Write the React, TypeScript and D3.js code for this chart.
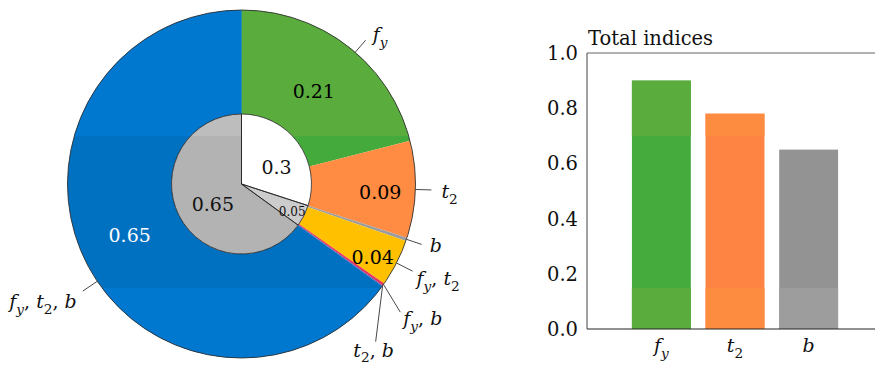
import React from "react";
import * as d3 from "d3";

const W = 875;
const H = 365;

// Outer ring: share of variance per factor group
const groupNames = ["f_y", "t_2", "b", "f_y, t_2", "f_y, b", "t_2, b", "f_y, t_2, b"];
const groupShares = [0.21, 0.09, 0.003, 0.044, 0.002, 0.001, 0.65];

// Inner pie: share per interaction order
const orderNames = ["first", "second", "third"];
const orderShares = [0.3, 0.05, 0.65];

// Bar chart: total-effect indices
const barFactors = ["f_y", "t_2", "b"];
const totalIndices = [0.9, 0.78, 0.65];
const yTicks = [0, 0.2, 0.4, 0.6, 0.8, 1.0];

const FONT = "'DejaVu Serif', serif";

type Palette = { groups: string[]; orders: string[]; bars: string[] };

const basePal: Palette = {
  groups: ["#43aa3b", "url(#orangeGrad)", "#9d9d9d", "#ffc000", "#e8325a", "#7a3fa0", "#0070c0"],
  orders: ["#ffffff", "#cccccc", "#b3b3b3"],
  bars: ["#44ab3c", "#fe8444", "#939393"],
};
// slightly lighter rendering in the top and bottom horizontal strips
const stripPal: Palette = {
  groups: ["#5aac3c", "url(#orangeGrad)", "#9d9d9d", "#ffc000", "#e8325a", "#7a3fa0", "#0078d0"],
  orders: ["#ffffff", "#d2d2d2", "#bdbdbd"],
  bars: ["#5aac3c", "#fe8c40", "#9d9d9d"],
};

// donut geometry
const cx = 241.5;
const cy = 184;
const rOut = 174;
const rIn = 70;

// callout layout for the outer ring (degrees / px)
const callouts = [
  { nudge: 3, endAngle: null, endR: 190, dx: 7, dy: 1, anchor: "start" },
  { nudge: 0, endAngle: null, endR: 190, dx: 10, dy: 8, anchor: "start" },
  { nudge: 0, endAngle: null, endR: 190, dx: 8, dy: 8, anchor: "start" },
  { nudge: 0, endAngle: null, endR: 192, dx: 4, dy: 14, anchor: "start" },
  { nudge: 0, endAngle: 128.9, endR: 204, dx: 3, dy: 13, anchor: "start" },
  { nudge: 0, endAngle: 139.6, endR: 207, dx: -2, dy: 15, anchor: "middle" },
  { nudge: -7, endAngle: null, endR: 191.5, dx: -6, dy: 17, anchor: "end" },
];
// value labels inside the ring
const ringValueLayout = [
  { r: 118, nudge: 0, color: "#000" },
  { r: 139, nudge: 1.5, color: "#000" },
  null,
  { r: 150, nudge: 2, color: "#000" },
  null,
  null,
  { r: 123, nudge: 2.4, color: "#fff" },
];
const pieValueLayout = [
  { r: 39, nudge: 10, size: 19 },
  { r: 58, nudge: 2, size: 12 },
  { r: 35, nudge: -8, size: 19 },
];

const rad = (deg: number) => (deg * Math.PI) / 180;
const polar = (a: number, r: number): [number, number] => [cx + r * Math.sin(a), cy - r * Math.cos(a)];

const pieGen = d3
  .pie<number>()
  .sort(null)
  .value((d) => d)
  .startAngle(0)
  .endAngle(2 * Math.PI);
const outerArcs = pieGen(groupShares);
const innerArcs = pieGen(orderShares);
const ringArc = d3.arc<d3.PieArcDatum<number>>().innerRadius(rIn).outerRadius(rOut);
const pieArc = d3.arc<d3.PieArcDatum<number>>().innerRadius(0).outerRadius(rIn);

const x = d3.scaleBand<string>().domain(barFactors).range([587, 883]).paddingInner(0.2).paddingOuter(0.61);
const y = d3.scaleLinear().domain([0, 1]).range([329, 53]);
const fmtRing = d3.format(".2f");
const fmtPie = (v: number) => String(v);

function MathLabel(props: { text: string; x: number; y: number; anchor?: string; size?: number }) {
  const size = props.size ?? 19;
  const shift = size * 0.3;
  const spans: React.ReactNode[] = [];
  let off = 0;
  props.text.split(", ").forEach((part, i) => {
    const [base, sub] = part.split("_");
    if (i > 0) {
      spans.push(
        <tspan key={"c" + i} dy={-off} fontStyle="normal">
          {", "}
        </tspan>
      );
      off = 0;
    }
    spans.push(<tspan key={"b" + i}>{base}</tspan>);
    if (sub) {
      spans.push(
        <tspan key={"s" + i} dy={shift} fontSize={size * 0.72} fontStyle={/\d/.test(sub) ? "normal" : "italic"}>
          {sub}
        </tspan>
      );
      off = shift;
    }
  });
  return (
    <text
      x={props.x}
      y={props.y}
      textAnchor={props.anchor ?? "start"}
      fontFamily={FONT}
      fontStyle="italic"
      fontSize={size}
      fill="#111"
      style={{ whiteSpace: "pre" }}
    >
      {spans}
    </text>
  );
}

function Fills({ pal }: { pal: Palette }) {
  return (
    <g>
      {outerArcs.map((a, i) => (
        <path key={groupNames[i]} d={ringArc(a) ?? ""} transform={`translate(${cx},${cy})`} fill={pal.groups[i]} />
      ))}
      {innerArcs.map((a, i) => (
        <path key={orderNames[i]} d={pieArc(a) ?? ""} transform={`translate(${cx},${cy})`} fill={pal.orders[i]} />
      ))}
      {barFactors.map((f, i) => (
        <rect
          key={f}
          x={x(f)}
          y={y(totalIndices[i])}
          width={x.bandwidth()}
          height={y(0) - y(totalIndices[i])}
          fill={pal.bars[i]}
        />
      ))}
    </g>
  );
}

function Overlay() {
  return (
    <g>
      {/* inner pie outlines */}
      {innerArcs.map((a, i) => (
        <path
          key={orderNames[i]}
          d={pieArc(a) ?? ""}
          transform={`translate(${cx},${cy})`}
          fill="none"
          stroke="#222"
          strokeWidth={0.8}
        />
      ))}
      <circle cx={cx} cy={cy} r={rOut} fill="none" stroke="#333" strokeWidth={0.9} />

      {/* callouts */}
      {outerArcs.map((a, i) => {
        const c = callouts[i];
        const mid = (a.startAngle + a.endAngle) / 2 + rad(c.nudge);
        const [x0, y0] = polar(mid, rOut);
        const endA = c.endAngle == null ? mid : rad(c.endAngle);
        const [x1, y1] = polar(endA, c.endR);
        return (
          <g key={groupNames[i]}>
            <line x1={x0} y1={y0} x2={x1} y2={y1} stroke="#333" strokeWidth={0.9} />
            <MathLabel text={groupNames[i]} x={x1 + c.dx} y={y1 + c.dy} anchor={c.anchor} />
          </g>
        );
      })}

      {/* ring values */}
      {outerArcs.map((a, i) => {
        const l = ringValueLayout[i];
        if (!l) return null;
        const mid = (a.startAngle + a.endAngle) / 2 + rad(l.nudge);
        const [px, py] = polar(mid, l.r);
        return (
          <text key={groupNames[i]} x={px} y={py + 7} textAnchor="middle" fontFamily={FONT} fontSize={19} fill={l.color}>
            {fmtRing(groupShares[i])}
          </text>
        );
      })}
      {/* pie values */}
      {innerArcs.map((a, i) => {
        const l = pieValueLayout[i];
        const mid = (a.startAngle + a.endAngle) / 2 + rad(l.nudge);
        const [px, py] = polar(mid, l.r);
        return (
          <text
            key={orderNames[i]}
            x={px}
            y={py + l.size * 0.36}
            textAnchor="middle"
            fontFamily={FONT}
            fontSize={l.size}
            fill="#111"
          >
            {fmtPie(orderShares[i])}
          </text>
        );
      })}

      {/* bar chart frame */}
      <line x1={587} x2={W} y1={y(1)} y2={y(1)} stroke="#666" strokeWidth={1} />
      <line x1={587} x2={W} y1={y(0)} y2={y(0)} stroke="#222" strokeWidth={1} />
      <line x1={587} x2={587} y1={y(1)} y2={y(0)} stroke="#444" strokeWidth={1} />
      {yTicks.map((t) => (
        <text key={t} x={578} y={y(t) + 7} textAnchor="end" fontFamily={FONT} fontSize={19.5} fill="#111">
          {t.toFixed(1)}
        </text>
      ))}
      <text x={588} y={45} fontFamily={FONT} fontSize={19.5} fill="#111">
        Total indices
      </text>
      {barFactors.map((f) => (
        <MathLabel key={f} text={f} x={(x(f) ?? 0) + x.bandwidth() / 2} y={352} anchor="middle" />
      ))}
    </g>
  );
}

export default function App() {
  return (
    <svg
      width={W}
      height={H}
      viewBox={`0 0 ${W} ${H}`}
      style={{ position: "absolute", left: 0, top: 0, background: "#fff" }}
    >
      <defs>
        <linearGradient id="orangeGrad" gradientUnits="userSpaceOnUse" x1={0} y1={140} x2={0} y2={236}>
          <stop offset="0" stopColor="#ff8c42" />
          <stop offset="1" stopColor="#ff6500" />
        </linearGradient>
        <clipPath id="strips">
          <rect x={0} y={0} width={W} height={136} />
          <rect x={0} y={288} width={W} height={H - 288} />
        </clipPath>
      </defs>
      <rect width={W} height={H} fill="#fff" />
      <Fills pal={basePal} />
      <g clipPath="url(#strips)">
        <Fills pal={stripPal} />
      </g>
      <Overlay />
    </svg>
  );
}
